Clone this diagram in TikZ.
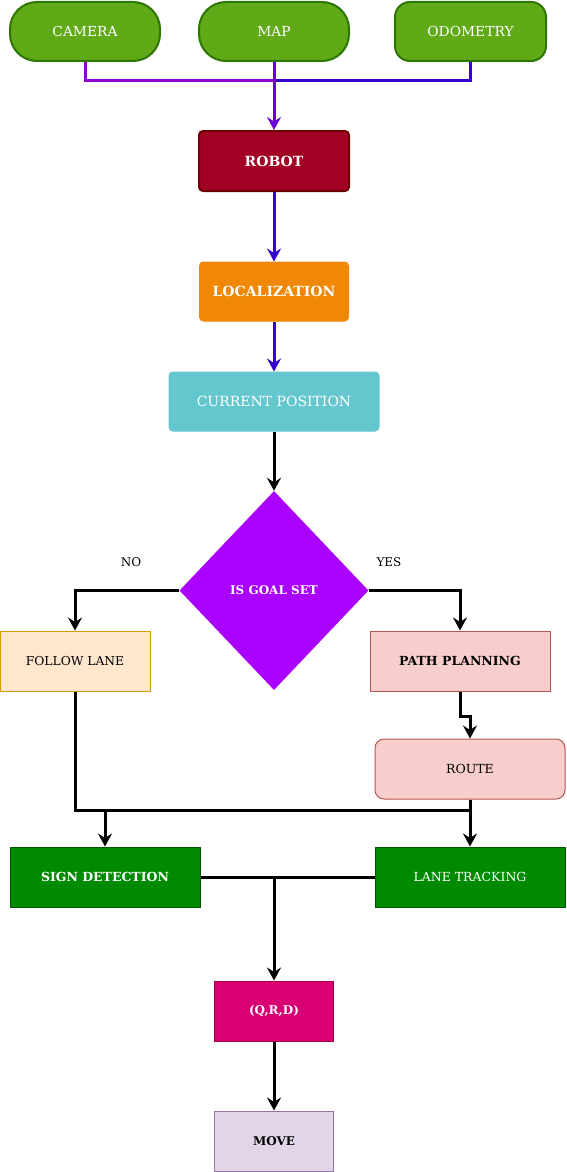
\documentclass[tikz,border=0pt]{standalone}
\usepackage{fontspec}
\setmainfont{DejaVu Serif}
\usetikzlibrary{shapes.geometric,arrows.meta}
\definecolor{gfill}{HTML}{60A917}
\definecolor{gdraw}{HTML}{2D7600}
\definecolor{rfill}{HTML}{A20025}
\definecolor{rdraw}{HTML}{6F0000}
\definecolor{ofill}{HTML}{F08705}
\definecolor{cfill}{HTML}{64C7CE}
\definecolor{dfill}{HTML}{AA00FF}
\definecolor{ffill}{HTML}{FFE6CC}
\definecolor{fdraw}{HTML}{D79B00}
\definecolor{pfill}{HTML}{F8CECC}
\definecolor{pdraw}{HTML}{B85450}
\definecolor{sfill}{HTML}{008A00}
\definecolor{sdraw}{HTML}{005700}
\definecolor{qfill}{HTML}{D80073}
\definecolor{qdraw}{HTML}{A50040}
\definecolor{mfill}{HTML}{E1D5E7}
\definecolor{mdraw}{HTML}{9673A6}
\definecolor{viol}{HTML}{9000D0}
\definecolor{mviol}{HTML}{6A00D0}
\definecolor{bviol}{HTML}{3700CC}
\tikzset{
  box/.style={rectangle, inner sep=0pt, align=center, font=\fontsize{13.8}{16}\selectfont, line width=1pt},
  inbox/.style={box, fill=gfill, draw=gdraw, line width=2pt, text=white},
  conn/.style={line width=3pt},
  arr/.style={conn, -{Stealth[length=13pt, width=14pt, inset=4.5pt]}},
  lbl/.style={font=\fontsize{12}{14}\selectfont}
}
\begin{document}
\begin{tikzpicture}[x=1pt,y=-1pt]
\useasboundingbox (0,0) rectangle (566,1172);
\node[inbox, minimum width=150, minimum height=59, rounded corners=27] (cam) at (85,31.5) {CAMERA};
\node[inbox, minimum width=150, minimum height=59, rounded corners=27] (map) at (274,31.5) {MAP};
\node[inbox, minimum width=151, minimum height=59, rounded corners=15] (odo) at (470.5,31.5) {ODOMETRY};
\node[box, fill=rfill, draw=rdraw, line width=2pt, text=white, minimum width=150, minimum height=60, rounded corners=4, font=\fontsize{14}{16}\selectfont\bfseries] (robot) at (274,161) {ROBOT};
\node[box, fill=ofill, draw=ofill, text=white, minimum width=149, minimum height=59, rounded corners=4, font=\fontsize{14}{16}\selectfont\bfseries] (loc) at (274,291.5) {LOCALIZATION};
\node[box, fill=cfill, draw=cfill, text=white, minimum width=210, minimum height=59, rounded corners=4, font=\fontsize{14}{16}\selectfont] (cur) at (274,401.5) {CURRENT POSITION};
\node[diamond, aspect=0.95, inner sep=0pt, fill=dfill, text=white, minimum width=189, minimum height=199, font=\fontsize{12}{15}\selectfont\bfseries] (dia) at (274,590.5) {IS GOAL SET};
\node[lbl] (no) at (131,562) {NO};
\node[lbl] (yes) at (389,562) {YES};
\node[box, fill=ffill, draw=fdraw, minimum width=150, minimum height=60, font=\fontsize{12.3}{15}\selectfont] (fol) at (75,661) {FOLLOW LANE};
\node[box, fill=pfill, draw=pdraw, minimum width=180, minimum height=60, font=\fontsize{12.5}{15}\selectfont\bfseries] (pp) at (460,661) {PATH PLANNING};
\node[box, fill=pfill, draw=pdraw, minimum width=190, minimum height=60, rounded corners=9, font=\fontsize{12.5}{15}\selectfont] (route) at (470,769) {ROUTE};
\node[box, fill=sfill, draw=sdraw, text=white, minimum width=190, minimum height=60, font=\fontsize{12.5}{15}\selectfont\bfseries] (sign) at (105,877) {SIGN DETECTION};
\node[box, fill=sfill, draw=sdraw, text=white, minimum width=190, minimum height=60, font=\fontsize{12.5}{15}\selectfont] (lane) at (470,877) {LANE TRACKING};
\node[box, fill=qfill, draw=qdraw, text=white, minimum width=119, minimum height=60, font=\fontsize{12}{14}\selectfont\bfseries] (qrd) at (274,1011) {(Q,R,D)};
\node[box, fill=mfill, draw=mdraw, minimum width=119, minimum height=60, font=\fontsize{12}{14}\selectfont\bfseries] (move) at (274,1141) {MOVE};
\coordinate (jt) at (274,80);
\coordinate (jb) at (470,810);
\coordinate (js) at (105,810);
\coordinate (jq) at (274,877);
\draw[conn, viol] (cam.south) |- (jt);
\draw[conn, bviol] (odo.south) |- (jt);
\draw[arr, mviol] (map.south) -- (robot.north);
\draw[arr, bviol] (robot.south) -- (loc.north);
\draw[arr, bviol] (loc.south) -- (cur.north);
\draw[arr] (cur.south) -- (dia.north);
\draw[arr] (dia.west) -| (fol.north);
\draw[arr] (dia.east) -| (pp.north);
\draw[arr] (pp.south) -- ++(0,25) -| (route.north);
\draw[conn] (fol.south) |- (jb);
\draw[arr] (js) -- (sign.north);
\draw[arr] (route.south) -- (lane.north);
\draw[conn] (sign.east) -- (lane.west);
\draw[arr] (jq) -- (qrd.north);
\draw[arr] (qrd.south) -- (move.north);
\end{tikzpicture}
\end{document}
